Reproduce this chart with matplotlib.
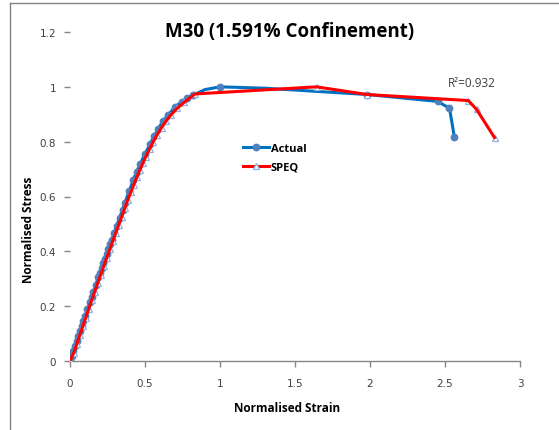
import matplotlib.pyplot as plt
from matplotlib.lines import Line2D

actual_strain = [0.000, 0.011, 0.022, 0.033, 0.044, 0.055, 0.066, 0.078, 0.089, 0.100,
                 0.116, 0.133, 0.144, 0.155, 0.172, 0.189, 0.200, 0.211, 0.222, 0.233,
                 0.244, 0.255, 0.267, 0.278, 0.295, 0.311, 0.330, 0.350, 0.367, 0.395,
                 0.422, 0.445, 0.467, 0.500, 0.533, 0.560, 0.589, 0.620, 0.655, 0.700,
                 0.744, 0.780, 0.822, 0.900, 1.000, 1.300, 1.980, 2.450, 2.530, 2.562]
actual_stress = [0.000, 0.018, 0.036, 0.054, 0.072, 0.090, 0.108, 0.127, 0.145, 0.163,
                 0.189, 0.216, 0.234, 0.252, 0.279, 0.305, 0.322, 0.339, 0.356, 0.373,
                 0.390, 0.407, 0.425, 0.442, 0.468, 0.493, 0.522, 0.552, 0.578, 0.620,
                 0.660, 0.691, 0.718, 0.755, 0.791, 0.819, 0.848, 0.875, 0.898, 0.926,
                 0.946, 0.958, 0.970, 0.990, 1.000, 0.995, 0.972, 0.947, 0.922, 0.818]
# points that are not drawn as markers (under other marks in the reference)
actual_hidden = [0.900, 1.300]

speq_strain = [0.000, 0.025, 0.045, 0.065, 0.085, 0.105, 0.125, 0.145, 0.165, 0.185,
               0.205, 0.225, 0.245, 0.265, 0.285, 0.305, 0.325, 0.345, 0.365, 0.385,
               0.405, 0.425, 0.445, 0.465, 0.485, 0.505, 0.530, 0.555, 0.580, 0.610,
               0.640, 0.675, 0.715, 0.760, 0.833, 1.644, 1.980, 2.655, 2.710, 2.830]
speq_stress = [0.000, 0.030, 0.062, 0.094, 0.126, 0.158, 0.190, 0.222, 0.253, 0.284,
               0.315, 0.346, 0.377, 0.407, 0.437, 0.467, 0.497, 0.527, 0.557, 0.587,
               0.615, 0.643, 0.670, 0.696, 0.721, 0.745, 0.773, 0.800, 0.825, 0.851,
               0.875, 0.899, 0.922, 0.943, 0.974, 1.000, 0.972, 0.950, 0.918, 0.815]

r2_text = 'R²=0.932'

fig = plt.figure(figsize=(5.59, 4.31), dpi=100)
ax = fig.add_axes([70 / 559, 1 - 362 / 431, 450 / 559, 329 / 431])

blue_line = '#0070C0'
blue_mark = '#4F81BD'
red_line = '#FF0000'
tri_edge = '#8EB4E3'

ax.plot(actual_strain, actual_stress, color=blue_line, lw=2.2, zorder=2)
shown = [i for i in range(len(actual_strain)) if actual_strain[i] not in actual_hidden]
ax.plot([actual_strain[i] for i in shown], [actual_stress[i] for i in shown],
        ls='none', marker='o', ms=4.6, mfc=blue_mark, mec=blue_mark, zorder=3)

ax.plot(speq_strain, speq_stress, color=red_line, lw=2.2, zorder=5)
ax.plot(speq_strain, speq_stress, ls='none', marker='^', ms=4.8,
        mfc='white', mec=tri_edge, mew=0.9, zorder=4)

ax.set_xlim(0, 3)
ax.set_ylim(0, 1.2)
ax.set_xticks([0, 0.5, 1, 1.5, 2, 2.5, 3])
ax.set_xticklabels(['0', '0.5', '1', '1.5', '2', '2.5', '3'])
ax.set_yticks([0, 0.2, 0.4, 0.6, 0.8, 1, 1.2])
ax.set_yticklabels(['0', '0.2', '0.4', '0.6', '0.8', '1', '1.2'])

for s in ['top', 'right', 'left']:
    ax.spines[s].set_visible(False)
ax.spines['bottom'].set_color('#868686')
ax.spines['bottom'].set_linewidth(1.0)
ax.tick_params(axis='both', colors='#868686', labelcolor='#404040',
               labelsize=7.5, length=4, width=1.0)
ax.tick_params(axis='y', pad=6)
ax.tick_params(axis='x', pad=8)

font = 'Open Sans'
ax.set_xlabel('Normalised Strain', fontsize=8.5, fontweight='bold', family=font)
ax.xaxis.set_label_coords((287 - 70) / 450, (362 - 402) / 329)
ax.set_ylabel('Normalised Stress', fontsize=8.5, fontweight='bold', family=font)
ax.yaxis.set_label_coords((35 - 70) / 450, (362 - 230) / 329)
fig.text(290 / 559, 1 - 32 / 431, 'M30 (1.591% Confinement)', ha='center',
         va='center', fontsize=13.5, fontweight='bold', family=font)

ax.text(2.678, 1.017, r2_text, ha='center', va='center', fontsize=8.5,
        color='#404040', family=font)

handles = [Line2D([], [], color=blue_line, lw=2.2, marker='o', ms=4.6,
                  mfc=blue_mark, mec=blue_mark),
           Line2D([], [], color=red_line, lw=2.2, marker='^', ms=4.8,
                  mfc='white', mec=tri_edge)]
leg = ax.legend(handles, ['Actual', 'SPEQ'], loc='upper left',
                bbox_to_anchor=(233 / 559, 1 - 134 / 431), bbox_transform=fig.transFigure,
                frameon=False, handlelength=2.3, handletextpad=0.2,
                labelspacing=0.7, prop={'family': font, 'weight': 'bold', 'size': 8})

# partial chart frame
fig.add_artist(Line2D([10 / 559, 10 / 559], [0, 1 - 4 / 431], color='#808080',
                      lw=1.0, transform=fig.transFigure))
fig.add_artist(Line2D([10 / 559, 1], [1 - 4 / 431, 1 - 4 / 431], color='#808080',
                      lw=1.0, transform=fig.transFigure))

fig.savefig('out.png', dpi=100)
